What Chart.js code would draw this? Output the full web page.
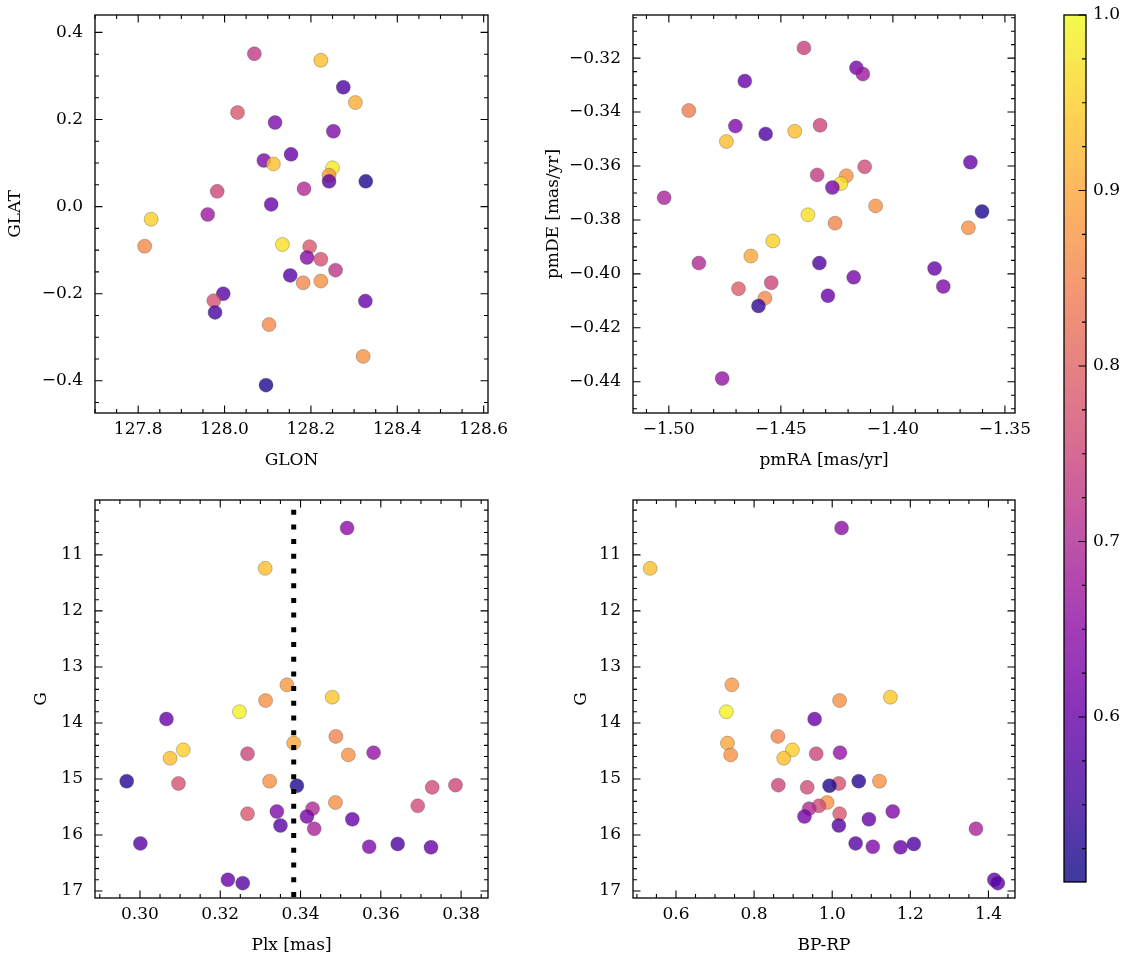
<!DOCTYPE html>
<html>
<head>
<meta charset="utf-8">
<script src="https://cdn.jsdelivr.net/npm/chart.js@4.4.0/dist/chart.umd.min.js"></script>
<style>
  body { margin: 0; background: #fff; width: 1133px; height: 965px; position: relative; overflow: hidden; }
  canvas { position: absolute; }
</style>
</head>
<body>
<canvas id="gal"></canvas>
<canvas id="pm"></canvas>
<canvas id="plx"></canvas>
<canvas id="cmd"></canvas>
<canvas id="cbar"></canvas>
<script>
// galactic position of members
const glon = [128.069, 128.223, 128.275, 128.303, 128.030, 128.117, 128.252, 128.154, 128.091, 128.113,
  128.250, 128.242, 128.242, 128.327, 128.184, 127.983, 128.108, 127.961, 127.830, 127.815,
  128.134, 128.197, 128.191, 128.223, 128.257, 128.152, 128.182, 128.223, 127.997, 127.975,
  128.326, 127.978, 128.103, 128.321, 128.096];
const glat = [0.351, 0.336, 0.274, 0.239, 0.216, 0.193, 0.173, 0.120, 0.106, 0.098,
  0.089, 0.072, 0.058, 0.058, 0.041, 0.035, 0.005, -0.018, -0.029, -0.091,
  -0.087, -0.092, -0.117, -0.121, -0.146, -0.158, -0.175, -0.171, -0.200, -0.216,
  -0.217, -0.243, -0.271, -0.344, -0.410];
const probGal = [0.73, 0.93, 0.57, 0.91, 0.78, 0.63, 0.63, 0.60, 0.63, 0.93,
  0.98, 0.88, 0.58, 0.52, 0.70, 0.75, 0.60, 0.67, 0.95, 0.86,
  0.97, 0.78, 0.64, 0.77, 0.72, 0.58, 0.86, 0.87, 0.58, 0.77,
  0.60, 0.56, 0.86, 0.87, 0.52];

// proper motions
const pmra = [-1.4397, -1.4163, -1.4134, -1.4661, -1.4911, -1.4703, -1.4568, -1.4438, -1.4743, -1.4325,
  -1.3654, -1.4126, -1.4338, -1.4208, -1.4232, -1.4270, -1.5021, -1.4077, -1.3602, -1.4379,
  -1.4258, -1.3663, -1.4536, -1.4634, -1.4866, -1.4328, -1.3814, -1.4175, -1.3775, -1.4689,
  -1.4543, -1.4571, -1.4290, -1.4600, -1.4762];
const pmde = [-0.3162, -0.3236, -0.3259, -0.3285, -0.3394, -0.3452, -0.3481, -0.3471, -0.3509, -0.3449,
  -0.3586, -0.3603, -0.3633, -0.3636, -0.3665, -0.3680, -0.3718, -0.3748, -0.3769, -0.3781,
  -0.3812, -0.3829, -0.3878, -0.3934, -0.3960, -0.3960, -0.3980, -0.4013, -0.4047, -0.4055,
  -0.4033, -0.4090, -0.4081, -0.4119, -0.4388];
const probPm = [0.74, 0.62, 0.67, 0.60, 0.84, 0.63, 0.57, 0.93, 0.93, 0.75,
  0.60, 0.76, 0.73, 0.87, 0.97, 0.62, 0.69, 0.87, 0.52, 0.97,
  0.85, 0.87, 0.95, 0.90, 0.70, 0.57, 0.60, 0.62, 0.63, 0.79,
  0.75, 0.86, 0.60, 0.54, 0.66];

// parallax / photometry (same stars in both bottom panels)
const plx = [0.3516, 0.3312, 0.3366, 0.3479, 0.3313, 0.3248, 0.3066, 0.3488, 0.3383, 0.3108,
  0.3075, 0.3268, 0.3519, 0.3582, 0.2967, 0.3096, 0.3323, 0.3391, 0.3728, 0.3786,
  0.3487, 0.3692, 0.3268, 0.3341, 0.3430, 0.3416, 0.3529, 0.3350, 0.3434, 0.3001,
  0.3571, 0.3642, 0.3725, 0.3219, 0.3256];
const gmag = [10.52, 11.24, 13.32, 13.54, 13.60, 13.80, 13.93, 14.24, 14.36, 14.48,
  14.63, 14.55, 14.57, 14.53, 15.04, 15.08, 15.04, 15.12, 15.15, 15.11,
  15.42, 15.48, 15.62, 15.58, 15.53, 15.67, 15.72, 15.83, 15.89, 16.15,
  16.21, 16.16, 16.22, 16.80, 16.86];
const bprp = [1.024, 0.534, 0.743, 1.149, 1.019, 0.729, 0.955, 0.861, 0.732, 0.898,
  0.876, 0.959, 0.740, 1.020, 1.068, 1.017, 1.121, 0.993, 0.936, 0.862,
  0.987, 0.966, 1.019, 1.155, 0.941, 0.929, 1.094, 1.017, 1.368, 1.060,
  1.104, 1.209, 1.175, 1.415, 1.424];
const probPhot = [0.65, 0.93, 0.88, 0.94, 0.87, 0.99, 0.60, 0.85, 0.90, 0.95,
  0.93, 0.75, 0.87, 0.66, 0.53, 0.77, 0.87, 0.52, 0.76, 0.75,
  0.87, 0.76, 0.78, 0.63, 0.70, 0.62, 0.60, 0.58, 0.69, 0.58,
  0.63, 0.57, 0.60, 0.60, 0.58];
const plxMean = 0.3383;

const probMin = 0.506, probMax = 1.0;
const cbarTicks = [0.6, 0.7, 0.8, 0.9, 1.0];

// matplotlib plasma, sampled every 0.1
const plasma = ['#0d0887', '#41049d', '#6a00a8', '#8f0da4', '#b12a90', '#cc4778',
  '#e16462', '#f2844b', '#fca636', '#fcce25', '#f0f921'];
function hex(h) { return [1, 3, 5].map(i => parseInt(h.substr(i, 2), 16)); }
function cmap(t, alpha) {
  t = Math.min(1, Math.max(0, t)) * 10;
  const i = Math.min(9, Math.floor(t)), f = t - i;
  const a = hex(plasma[i]), b = hex(plasma[i + 1]);
  const c = a.map((v, k) => Math.round(v + (b[k] - v) * f));
  return `rgba(${c[0]},${c[1]},${c[2]},${alpha})`;
}
const probColor = (p) => cmap((p - probMin) / (probMax - probMin), 0.8);

Chart.defaults.font.family = "'DejaVu Serif', serif";
Chart.defaults.font.size = 17;
Chart.defaults.color = '#000';
Chart.defaults.animation = false;

function minusFmt(dec) {
  return (v) => v.toFixed(dec).replace('-', '\u2212');
}
// fixed axis size, no extra label overhang padding
function fixSize(prop, size) {
  return (s) => {
    s[prop] = size;
    s.paddingLeft = s.paddingRight = s.paddingTop = s.paddingBottom = 0;
  };
}

// inward major/minor ticks on all four sides + frame
const frameTicks = {
  id: 'frameTicks',
  afterDraw(chart, args, opts) {
    if (!opts.x) return;
    const { ctx, chartArea: a, scales } = chart;
    const vals = (s, step) => {
      const out = [];
      const lo = Math.min(s.min, s.max), hi = Math.max(s.min, s.max);
      for (let k = Math.ceil(lo / step - 1e-6); k * step <= hi + 1e-9; k++) out.push(k * step);
      return out;
    };
    ctx.save();
    ctx.strokeStyle = '#000';
    ctx.lineWidth = 1.1;
    ctx.beginPath();
    [[opts.x[1], 4], [opts.x[0], 7.5]].forEach(([step, len]) => {
      vals(scales.x, step).forEach(v => {
        const p = scales.x.getPixelForValue(v);
        ctx.moveTo(p, a.bottom); ctx.lineTo(p, a.bottom - len);
        ctx.moveTo(p, a.top); ctx.lineTo(p, a.top + len);
      });
    });
    [[opts.y[1], 4], [opts.y[0], 7.5]].forEach(([step, len]) => {
      vals(scales.y, step).forEach(v => {
        const p = scales.y.getPixelForValue(v);
        ctx.moveTo(a.left, p); ctx.lineTo(a.left + len, p);
        ctx.moveTo(a.right, p); ctx.lineTo(a.right - len, p);
      });
    });
    ctx.stroke();
    ctx.lineWidth = 1.3;
    ctx.strokeRect(a.left, a.top, a.width, a.height);
    ctx.restore();
  }
};
Chart.register(frameTicks);

function panel(id, box, cfg) {
  const yW = 95, xH = 62, padR = 32;
  const el = document.getElementById(id);
  const w = box.r - box.l + yW + padR, h = box.b - box.t + 10 + xH;
  el.width = w; el.height = h;
  el.style.left = (box.l - yW) + 'px';
  el.style.top = (box.t - 10) + 'px';
  const datasets = [];
  if (cfg.vline !== undefined) {
    datasets.push({
      type: 'line',
      data: [{ x: cfg.vline, y: cfg.ymin }, { x: cfg.vline, y: cfg.ymax }],
      borderColor: '#000', borderWidth: 5, borderDash: [5, 9.7], borderDashOffset: 5,
      pointRadius: 0, fill: false
    });
  }
  datasets.push({
    data: cfg.xs.map((x, i) => ({ x: x, y: cfg.ys[i] })),
    backgroundColor: cfg.prob.map(probColor),
    borderColor: 'rgba(70,70,70,0.55)',
    borderWidth: 0.6,
    pointRadius: 7
  });
  return new Chart(el, {
    type: 'scatter',
    data: { datasets },
    options: {
      responsive: false,
      layout: { autoPadding: false, padding: { left: 0, right: padR, top: 10, bottom: 0 } },
      plugins: {
        legend: { display: false }, tooltip: { enabled: false },
        frameTicks: { x: cfg.xTicks, y: cfg.yTicks }
      },
      scales: {
        x: {
          min: cfg.xmin, max: cfg.xmax,
          grid: { display: false, drawTicks: false },
          border: { display: false },
          ticks: { stepSize: cfg.xTicks[0], includeBounds: false, padding: 6, maxRotation: 0,
            callback: minusFmt(cfg.xDec) },
          title: { display: true, text: cfg.xLabel, padding: { top: 0, bottom: 4 } },
          afterFit: fixSize('height', xH)
        },
        y: {
          min: cfg.ymin, max: cfg.ymax, reverse: !!cfg.reverse,
          grid: { display: false, drawTicks: false },
          border: { display: false },
          ticks: { stepSize: cfg.yTicks[0], includeBounds: false, padding: 12,
            callback: minusFmt(cfg.yDec) },
          title: { display: true, text: cfg.yLabel, padding: { top: cfg.yTitlePad, bottom: 0 } },
          afterFit: fixSize('width', yW)
        }
      }
    }
  });
}

panel('gal', { l: 95, t: 15, r: 488, b: 413 }, {
  xs: glon, ys: glat, prob: probGal,
  xmin: 127.70, xmax: 128.61, ymin: -0.474, ymax: 0.44,
  xTicks: [0.2, 0.05], yTicks: [0.2, 0.05], xDec: 1, yDec: 1,
  xLabel: 'GLON', yLabel: 'GLAT', yTitlePad: 5
});
panel('pm', { l: 633, t: 15, r: 1015, b: 413 }, {
  xs: pmra, ys: pmde, prob: probPm,
  xmin: -1.516, xmax: -1.3455, ymin: -0.4516, ymax: -0.304,
  xTicks: [0.05, 0.01], yTicks: [0.02, 0.005], xDec: 2, yDec: 2,
  xLabel: 'pmRA [mas/yr]', yLabel: 'pmDE [mas/yr]', yTitlePad: 5
});
panel('plx', { l: 95, t: 500, r: 488, b: 898 }, {
  xs: plx, ys: gmag, prob: probPhot, vline: plxMean,
  xmin: 0.2888, xmax: 0.3867, ymin: 10.02, ymax: 17.125, reverse: true,
  xTicks: [0.02, 0.005], yTicks: [1, 0.2], xDec: 2, yDec: 0,
  xLabel: 'Plx [mas]', yLabel: 'G', yTitlePad: 31
});
panel('cmd', { l: 633, t: 500, r: 1015, b: 898 }, {
  xs: bprp, ys: gmag, prob: probPhot,
  xmin: 0.49, xmax: 1.468, ymin: 10.02, ymax: 17.125, reverse: true,
  xTicks: [0.2, 0.05], yTicks: [1, 0.2], xDec: 1, yDec: 0,
  xLabel: 'BP-RP', yLabel: 'G', yTitlePad: 33
});

// colorbar
const cbEl = document.getElementById('cbar');
cbEl.width = 79; cbEl.height = 887;
cbEl.style.left = '1054px'; cbEl.style.top = '5px';
new Chart(cbEl, {
  type: 'scatter',
  data: { datasets: [{ data: [] }] },
  options: {
    responsive: false,
    layout: { autoPadding: false, padding: { left: 10, right: 0, top: 10, bottom: 10 } },
    plugins: { legend: { display: false }, tooltip: { enabled: false } },
    scales: {
      x: { display: false, min: 0, max: 1 },
      y: {
        position: 'right', min: probMin, max: probMax,
        grid: { display: false, drawTicks: false }, border: { display: false },
        afterBuildTicks: (s) => { s.ticks = cbarTicks.map(v => ({ value: v })); },
        ticks: { padding: 7, callback: (v) => v.toFixed(1) },
        afterFit: fixSize('width', 47)
      }
    }
  },
  plugins: [{
    id: 'cbarFill',
    beforeDatasetsDraw(chart) {
      const { ctx, chartArea: a, scales: { y } } = chart;
      const g = ctx.createLinearGradient(0, a.bottom, 0, a.top);
      for (let i = 0; i <= 50; i++) g.addColorStop(i / 50, cmap(i / 50, 0.8));
      ctx.save();
      ctx.fillStyle = g;
      ctx.fillRect(a.left, a.top, a.width, a.height);
      ctx.strokeStyle = '#000';
      ctx.lineWidth = 1.1;
      ctx.beginPath();
      for (let k = Math.ceil(probMin / 0.025); k * 0.025 <= probMax + 1e-9; k++) {
        const v = k * 0.025;
        const major = Math.abs(v * 10 - Math.round(v * 10)) < 1e-6;
        const p = y.getPixelForValue(v);
        ctx.moveTo(a.right, p); ctx.lineTo(a.right - (major ? 7.5 : 4), p);
      }
      ctx.stroke();
      ctx.lineWidth = 1.3;
      ctx.strokeRect(a.left, a.top, a.width, a.height);
      ctx.restore();
    }
  }]
});
</script>
</body>
</html>
